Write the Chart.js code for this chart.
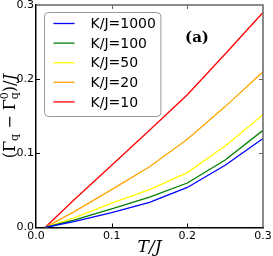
<!DOCTYPE html>
<html>
<head>
<meta charset="utf-8">
<script src="https://cdn.jsdelivr.net/npm/chart.js@4"></script>
<style>
  html, body { margin: 0; padding: 0; background: #fff; }
  #wrap { width: 273px; height: 256px; }
</style>
</head>
<body>
<div id="wrap"><canvas id="myChart" width="273" height="256"></canvas></div>
<script>
// values
const temps = [0.012, 0.05, 0.1, 0.15, 0.2, 0.25, 0.3];
const seriesLabels = ["K/J=1000", "K/J=100", "K/J=50", "K/J=20", "K/J=10"];
const seriesColors = ["#0000ff", "#008000", "#ffff00", "#ffa500", "#ff0000"];
const gammaK1000 = [0, 0.008, 0.020, 0.034, 0.054, 0.084, 0.120];
const gammaK100 = [0, 0.010, 0.025, 0.041, 0.060, 0.091, 0.131];
const gammaK50 = [0, 0.013, 0.033, 0.051, 0.074, 0.110, 0.152];
const gammaK20 = [0, 0.021, 0.051, 0.082, 0.119, 0.163, 0.210];
const gammaK10 = [0, 0.037, 0.084, 0.131, 0.179, 0.234, 0.290];
const allSeries = [gammaK1000, gammaK100, gammaK50, gammaK20, gammaK10];
const tickValues = [0, 0.1, 0.2, 0.3];

const datasets = allSeries.map((vals, i) => ({
    label: seriesLabels[i],
    data: vals.map((v, j) => ({ x: temps[j], y: v })),
    borderColor: seriesColors[i],
    backgroundColor: seriesColors[i],
    borderWidth: 1.3,
    pointRadius: 0,
    tension: 0
}));

// inward ticks, top/right frame, titles, boxed legend
const decorPlugin = {
    id: "decor",
    afterDatasetsDraw(chart) {
        const ctx = chart.ctx;
        const area = chart.chartArea;
        const xs = chart.scales.x;
        const ys = chart.scales.y;
        ctx.save();

        // top and right frame (grey)
        ctx.strokeStyle = "#666";
        ctx.lineWidth = 1.5;
        ctx.beginPath();
        ctx.moveTo(area.left, area.top);
        ctx.lineTo(area.right, area.top);
        ctx.lineTo(area.right, area.bottom);
        ctx.stroke();

        // ticks pointing inwards
        ctx.lineWidth = 1;
        tickValues.slice(1, -1).forEach(v => {
            const px = Math.round(xs.getPixelForValue(v)) + 0.5;
            const py = Math.round(ys.getPixelForValue(v)) + 0.5;
            ctx.strokeStyle = "#000";
            ctx.beginPath();
            ctx.moveTo(px, area.bottom); ctx.lineTo(px, area.bottom - 4);
            ctx.moveTo(area.left, py); ctx.lineTo(area.left + 4, py);
            ctx.stroke();
            ctx.strokeStyle = "#666";
            ctx.beginPath();
            ctx.moveTo(px, area.top); ctx.lineTo(px, area.top + 4);
            ctx.moveTo(area.right, py); ctx.lineTo(area.right - 4, py);
            ctx.stroke();
        });

        // legend
        ctx.font = "14px 'DejaVu Sans'";
        const textW = Math.max(...chart.data.datasets.map(d => ctx.measureText(d.label).width));
        const bx = area.left + 8.5, by = area.top + 7.5;
        const bw = 46 + textW + 5, bh = 104;
        ctx.beginPath();
        ctx.roundRect(bx, by, bw, bh, 4);
        ctx.fillStyle = "rgba(255,255,255,0.85)";
        ctx.fill();
        ctx.strokeStyle = "#999";
        ctx.lineWidth = 1;
        ctx.stroke();
        chart.data.datasets.forEach((d, i) => {
            const cy = by + 11 + i * 19.6;
            ctx.strokeStyle = d.borderColor;
            ctx.lineWidth = 1.3;
            ctx.beginPath();
            ctx.moveTo(bx + 9, cy);
            ctx.lineTo(bx + 30, cy);
            ctx.stroke();
            ctx.fillStyle = "#000";
            ctx.textBaseline = "middle";
            ctx.textAlign = "left";
            ctx.fillText(d.label, bx + 46, cy + 1);
        });

        // panel tag
        ctx.font = "bold 15px 'DejaVu Serif'";
        ctx.textAlign = "center";
        ctx.fillStyle = "#000";
        ctx.fillText("(a)", 197, 38);

        // x title
        ctx.font = "italic 17px 'DejaVu Serif'";
        ctx.fillText("T/J", (area.left + area.right) / 2, 248);

        // y title with sub/superscripts
        const parts = [
            { t: "(Γ", size: 16, dy: 0 },
            { t: "q", size: 11, dy: 4 },
            { t: " − Γ", size: 16, dy: 0 },
            { t: "q", size: 11, dy: 4, sup: "0" },
            { t: ")/", size: 16, dy: 0 },
            { t: "J", size: 16, dy: 0, italic: true }
        ];
        const fontFor = p => (p.italic ? "italic " : "") + p.size + "px 'DejaVu Serif'";
        let total = 0;
        parts.forEach(p => {
            ctx.font = fontFor(p);
            p.w = ctx.measureText(p.t).width;
            if (p.sup) p.w = Math.max(p.w, ctx.measureText(p.sup).width);
            total += p.w;
        });
        ctx.translate(11, (area.top + area.bottom) / 2);
        ctx.rotate(-Math.PI / 2);
        ctx.textAlign = "left";
        ctx.textBaseline = "middle";
        let cx = -total / 2;
        parts.forEach(p => {
            ctx.font = fontFor(p);
            ctx.fillText(p.t, cx, p.dy);
            if (p.sup) ctx.fillText(p.sup, cx, -6);
            cx += p.w;
        });
        ctx.restore();
    }
};

const tickFont = { family: "'DejaVu Sans'", size: 11 };

new Chart(document.getElementById("myChart"), {
    type: "line",
    data: { datasets: datasets },
    options: {
        responsive: false,
        animation: false,
        layout: { padding: { top: 5, right: 10, left: 0, bottom: 0 } },
        plugins: {
            legend: { display: false },
            tooltip: { enabled: false }
        },
        scales: {
            x: {
                type: "linear",
                min: 0,
                max: 0.3,
                ticks: {
                    stepSize: 0.1,
                    padding: 2,
                    color: "#000",
                    font: tickFont,
                    maxRotation: 0,
                    callback: v => v.toFixed(1)
                },
                grid: { drawOnChartArea: false, drawTicks: false },
                border: { color: "#000", width: 1.5 },
                afterFit: s => { s.height = 28.5; s.paddingLeft = 0; s.paddingRight = 0; }
            },
            y: {
                min: 0,
                max: 0.3,
                ticks: {
                    stepSize: 0.1,
                    padding: 2,
                    color: "#000",
                    font: tickFont,
                    callback: v => v.toFixed(1)
                },
                grid: { drawOnChartArea: false, drawTicks: false },
                border: { color: "#000", width: 1.5 },
                afterFit: s => { s.width = 36; s.paddingTop = 0; s.paddingBottom = 0; }
            }
        }
    },
    plugins: [decorPlugin]
});
</script>
</body>
</html>
